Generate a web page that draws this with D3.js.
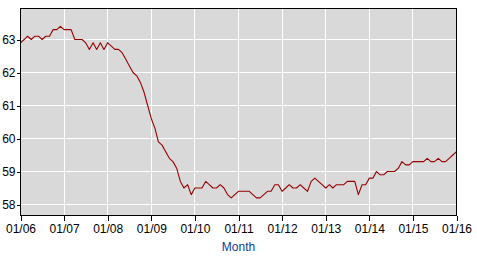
<!DOCTYPE html>
<html>
<head>
<meta charset="utf-8">
<script src="https://cdn.jsdelivr.net/npm/d3@7"></script>
<style>
  html, body { margin: 0; padding: 0; background: #fff; }
  svg { display: block; font-family: "Liberation Sans", Arial, sans-serif; }
</style>
</head>
<body>
<div id="chart"></div>
<script>
// employment-population ratio, monthly, one array per year
var years = [2006, 2007, 2008, 2009, 2010, 2011, 2012, 2013, 2014, 2015, 2016];
var v2006 = [62.9, 63.0, 63.1, 63.0, 63.1, 63.1, 63.0, 63.1, 63.1, 63.3, 63.3, 63.4];
var v2007 = [63.3, 63.3, 63.3, 63.0, 63.0, 63.0, 62.9, 62.7, 62.9, 62.7, 62.9, 62.7];
var v2008 = [62.9, 62.8, 62.7, 62.7, 62.6, 62.4, 62.2, 62.0, 61.9, 61.7, 61.4, 61.0];
var v2009 = [60.6, 60.3, 59.9, 59.8, 59.6, 59.4, 59.3, 59.1, 58.7, 58.5, 58.6, 58.3];
var v2010 = [58.5, 58.5, 58.5, 58.7, 58.6, 58.5, 58.5, 58.6, 58.5, 58.3, 58.2, 58.3];
var v2011 = [58.4, 58.4, 58.4, 58.4, 58.3, 58.2, 58.2, 58.3, 58.4, 58.4, 58.6, 58.6];
var v2012 = [58.4, 58.5, 58.6, 58.5, 58.5, 58.6, 58.5, 58.4, 58.7, 58.8, 58.7, 58.6];
var v2013 = [58.5, 58.6, 58.5, 58.6, 58.6, 58.6, 58.7, 58.7, 58.7, 58.3, 58.6, 58.6];
var v2014 = [58.8, 58.8, 59.0, 58.9, 58.9, 59.0, 59.0, 59.0, 59.1, 59.3, 59.2, 59.2];
var v2015 = [59.3, 59.3, 59.3, 59.3, 59.4, 59.3, 59.3, 59.4, 59.3, 59.3, 59.4, 59.5];
var v2016 = [59.6];
var yearValues = [v2006, v2007, v2008, v2009, v2010, v2011, v2012, v2013, v2014, v2015, v2016];

var yTicks = [58, 59, 60, 61, 62, 63];
var xTickLabels = ["01/06", "01/07", "01/08", "01/09", "01/10", "01/11", "01/12", "01/13", "01/14", "01/15", "01/16"];
var xTitle = "Month";

// flatten into points
var points = [];
yearValues.forEach(function(arr, i) {
  arr.forEach(function(v, m) {
    points.push({date: new Date(years[i], m, 1), value: v});
  });
});

var W = 477, H = 258;
var pLeft = 20.5, pRight = 456.5, pTop = 8.5, pBottom = 215.5;

var svg = d3.select("#chart").append("svg")
    .attr("width", W)
    .attr("height", H);

var x = d3.scaleTime()
    .domain([new Date(2006, 0, 1), new Date(2016, 0, 1)])
    .range([pLeft, pRight]);

var y = d3.scaleLinear()
    .domain([57.667, 63.94])
    .range([pBottom, pTop]);

// plot background
svg.append("rect")
    .attr("x", pLeft).attr("y", pTop)
    .attr("width", pRight - pLeft).attr("height", pBottom - pTop)
    .attr("fill", "#d9d9d9");

var tickDates = years.map(function(yr) { return new Date(yr, 0, 1); });

// grid lines
svg.append("g").selectAll("line")
    .data(tickDates)
  .enter().append("line")
    .attr("x1", function(d) { return Math.round(x(d) - 0.5) + 0.5; })
    .attr("x2", function(d) { return Math.round(x(d) - 0.5) + 0.5; })
    .attr("y1", pTop).attr("y2", pBottom)
    .attr("stroke", "#fff")
    .attr("shape-rendering", "crispEdges");

svg.append("g").selectAll("line")
    .data(yTicks)
  .enter().append("line")
    .attr("x1", pLeft).attr("x2", pRight)
    .attr("y1", function(d) { return Math.round(y(d) - 0.5) + 0.5; })
    .attr("y2", function(d) { return Math.round(y(d) - 0.5) + 0.5; })
    .attr("stroke", "#fff")
    .attr("shape-rendering", "crispEdges");

// data line
svg.append("path")
    .datum(points)
    .attr("fill", "none")
    .attr("stroke", "#990000")
    .attr("stroke-width", 1.1)
    .attr("stroke-linejoin", "round")
    .attr("d", d3.line()
      .x(function(d) { return x(d.date); })
      .y(function(d) { return y(d.value); }));

// frame
svg.append("rect")
    .attr("x", pLeft).attr("y", pTop)
    .attr("width", pRight - pLeft).attr("height", pBottom - pTop)
    .attr("fill", "none")
    .attr("stroke", "#000")
    .attr("shape-rendering", "crispEdges");

// axes
var xAxis = d3.axisBottom(x)
    .tickValues(tickDates)
    .tickFormat(function(d, i) { return xTickLabels[i]; })
    .tickSize(5)
    .tickSizeOuter(0);

var yAxis = d3.axisLeft(y)
    .tickValues(yTicks)
    .tickFormat(d3.format("d"))
    .tickSize(4)
    .tickSizeOuter(0);

var gx = svg.append("g")
    .attr("transform", "translate(0," + pBottom + ")")
    .call(xAxis);
gx.select(".domain").remove();
gx.selectAll("line").attr("stroke", "#000").attr("shape-rendering", "crispEdges");
gx.selectAll("text")
    .attr("y", 9)
    .attr("dy", "0.71em")
    .attr("fill", "#000")
    .style("font-size", "12px")
    .style("font-family", "'Liberation Sans', Arial, sans-serif");

var gy = svg.append("g")
    .attr("transform", "translate(" + pLeft + ",0)")
    .call(yAxis);
gy.select(".domain").remove();
gy.selectAll("line").attr("stroke", "#000").attr("shape-rendering", "crispEdges");
gy.selectAll("text")
    .attr("x", -5)
    .attr("fill", "#000")
    .style("font-size", "12px")
    .style("font-family", "'Liberation Sans', Arial, sans-serif");

// axis title
svg.append("text")
    .attr("x", (pLeft + pRight) / 2)
    .attr("y", 251)
    .attr("text-anchor", "middle")
    .attr("fill", "#103a96")
    .style("font-size", "12px")
    .text(xTitle);
</script>
</body>
</html>
